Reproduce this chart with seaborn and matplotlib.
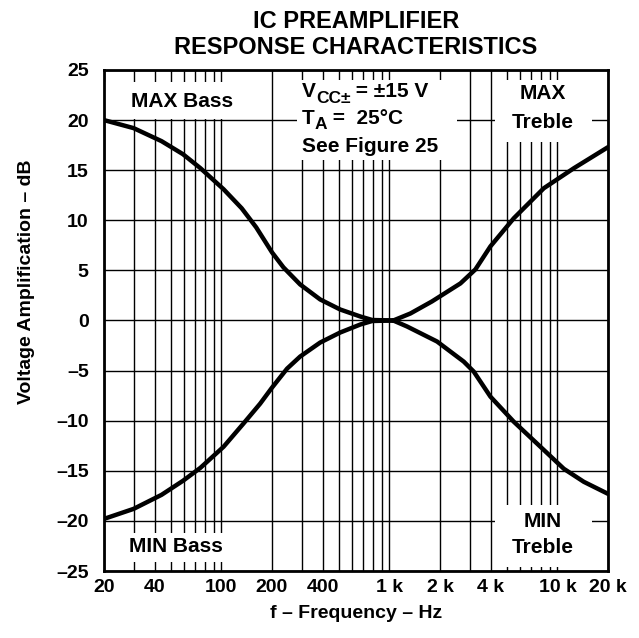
import matplotlib
matplotlib.use("Agg")
import matplotlib.pyplot as plt
import seaborn as sns
import pandas as pd
import numpy as np
from matplotlib.patches import Rectangle
from matplotlib.ticker import FixedLocator, LogLocator, NullFormatter

# ---- data ----
max_bass_f = [20, 30, 44, 59, 75, 103, 132, 161, 200, 234, 294, 387, 509, 671, 790, 1054]
max_bass_db = [20.0, 19.2, 17.9, 16.6, 15.2, 13.1, 11.2, 9.3, 6.8, 5.3, 3.6, 2.1, 1.1, 0.4, 0.05, 0.0]

min_bass_f = [20, 30, 44, 59, 75, 103, 135, 170, 200, 246, 294, 387, 509, 671, 790, 1054]
min_bass_db = [-19.8, -18.8, -17.4, -16.0, -14.7, -12.6, -10.3, -8.3, -6.7, -4.8, -3.6, -2.2, -1.2, -0.4, -0.05, 0.0]

max_treble_f = [1054, 1333, 1790, 2646, 3250, 3993, 5496, 8298, 12532, 20000]
max_treble_db = [0.0, 0.7, 1.9, 3.7, 5.1, 7.4, 10.2, 13.2, 15.2, 17.3]

min_treble_f = [1054, 1274, 1922, 2768, 3176, 3993, 5496, 7580, 10920, 14360, 20000]
min_treble_db = [0.0, -0.6, -2.1, -4.1, -5.1, -7.6, -10.1, -12.3, -14.8, -16.1, -17.3]

x_ticks = [20, 40, 100, 200, 400, 1000, 2000, 4000, 10000, 20000]
x_tick_labels = ["20", "40", "100", "200", "400", "1 k", "2 k", "4 k", "10 k", "20 k"]
y_ticks = [25, 20, 15, 10, 5, 0, -5, -10, -15, -20, -25]
y_tick_labels = ["25", "20", "15", "10", "5", "0", "–5", "–10", "–15", "–20", "–25"]

frames = []
for name, f, d in [("max_bass", max_bass_f, max_bass_db),
                   ("min_bass", min_bass_f, min_bass_db),
                   ("max_treble", max_treble_f, max_treble_db),
                   ("min_treble", min_treble_f, min_treble_db)]:
    frames.append(pd.DataFrame({"freq": f, "db": d, "curve": name}))
df = pd.concat(frames, ignore_index=True)

sns.set_style("white")
plt.rcParams["font.family"] = ["Liberation Sans", "DejaVu Sans"]
plt.rcParams["font.weight"] = "bold"
plt.rcParams["text.color"] = "black"
plt.rcParams["axes.labelcolor"] = "black"
plt.rcParams["xtick.color"] = "black"
plt.rcParams["ytick.color"] = "black"

fig = plt.figure(figsize=(6.39, 6.38), dpi=100)
ax = fig.add_axes([104/639, 1 - 571/638, 504/639, 501/638])

sns.lineplot(data=df, x="freq", y="db", units="curve", estimator=None,
             color="black", lw=3.2, sort=True, ax=ax, zorder=5)

ax.set_xscale("log")
ax.set_xlim(20, 20000)
ax.set_ylim(-25, 25)
ax.xaxis.set_major_locator(FixedLocator(x_ticks))
ax.set_xticklabels(x_tick_labels)
ax.xaxis.set_minor_locator(LogLocator(base=10, subs=np.arange(2, 10)))
ax.xaxis.set_minor_formatter(NullFormatter())
ax.set_yticks(y_ticks)
ax.set_yticklabels(y_tick_labels)
ax.set_axisbelow(True)
ax.grid(which="both", axis="x", color="black", lw=1.0)
ax.grid(which="major", axis="y", color="black", lw=1.0)
ax.tick_params(which="both", length=0, colors="black")
ax.tick_params(axis="x", labelsize=14, pad=6)
ax.tick_params(axis="y", labelsize=14, pad=11)
for t in ax.get_xticklabels() + ax.get_yticklabels():
    t.set_fontweight("bold")
for s in ax.spines.values():
    s.set_visible(True)
    s.set_color("black")
    s.set_linewidth(2.0)
ax.set_xlabel("")
ax.set_ylabel("")

# white label boxes (axes fraction)
boxes = [(0.0, 0.902, 0.264, 0.074),
         (0.383, 0.820, 0.317, 0.160),
         (0.776, 0.856, 0.192, 0.124),
         (0.008, 0.018, 0.242, 0.058),
         (0.776, 0.008, 0.192, 0.124)]
for (x0, y0, w, h) in boxes:
    ax.add_patch(Rectangle((x0, y0), w, h, transform=ax.transAxes,
                           facecolor="white", edgecolor="none", zorder=2))

fs = 15
kw = dict(transform=ax.transAxes, fontsize=fs, fontweight="bold", zorder=3, color="black")
ax.text(0.155, 0.938, "MAX Bass", ha="center", va="center", **kw)
ax.text(0.143, 0.048, "MIN Bass", ha="center", va="center", **kw)
ax.text(0.871, 0.954, "MAX", ha="center", va="center", **kw)
ax.text(0.871, 0.896, "Treble", ha="center", va="center", **kw)
ax.text(0.871, 0.0998, "MIN", ha="center", va="center", **kw)
ax.text(0.871, 0.046, "Treble", ha="center", va="center", **kw)

# V_CC± and T_A lines built from pieces so the subscripts stay large
kw2 = dict(fontsize=fs, fontweight="bold", zorder=3, color="black")
sub = dict(fontsize=12.5, fontweight="bold", zorder=3, color="black")
tv = ax.text(0.393, 0.946, "V", ha="left", va="baseline", transform=ax.transAxes, **kw2)
tcc = ax.annotate("CC±", xy=(1, 0), xycoords=tv, xytext=(0, -3.5), textcoords="offset points",
                  ha="left", va="bottom", **sub)
ax.annotate(" = ±15 V", xy=(1, 0), xycoords=tcc, xytext=(0, 3.5), textcoords="offset points",
            ha="left", va="bottom", **kw2)
tt = ax.text(0.393, 0.893, "T", ha="left", va="baseline", transform=ax.transAxes, **kw2)
ta = ax.annotate("A", xy=(1, 0), xycoords=tt, xytext=(0, -3.5), textcoords="offset points",
                 ha="left", va="bottom", **sub)
ax.annotate(" =  25°C", xy=(1, 0), xycoords=ta, xytext=(0, 3.5), textcoords="offset points",
            ha="left", va="bottom", **kw2)
ax.text(0.393, 0.848, "See Figure 25", ha="left", va="center", **kw)

fig.text(356/639, 1 - 22/638, "IC PREAMPLIFIER", ha="center", va="center",
         fontsize=17, fontweight="bold")
fig.text(356/639, 1 - 47/638, "RESPONSE CHARACTERISTICS", ha="center", va="center",
         fontsize=17, fontweight="bold")
fig.text(356/639, 1 - 614/638, "f – Frequency – Hz", ha="center", va="center",
         fontsize=14, fontweight="bold")
fig.text(27/639, 1 - 282/638, "Voltage Amplification – dB", ha="center", va="center",
         rotation=90, fontsize=14, fontweight="bold")

fig.savefig("out.png", dpi=100)
